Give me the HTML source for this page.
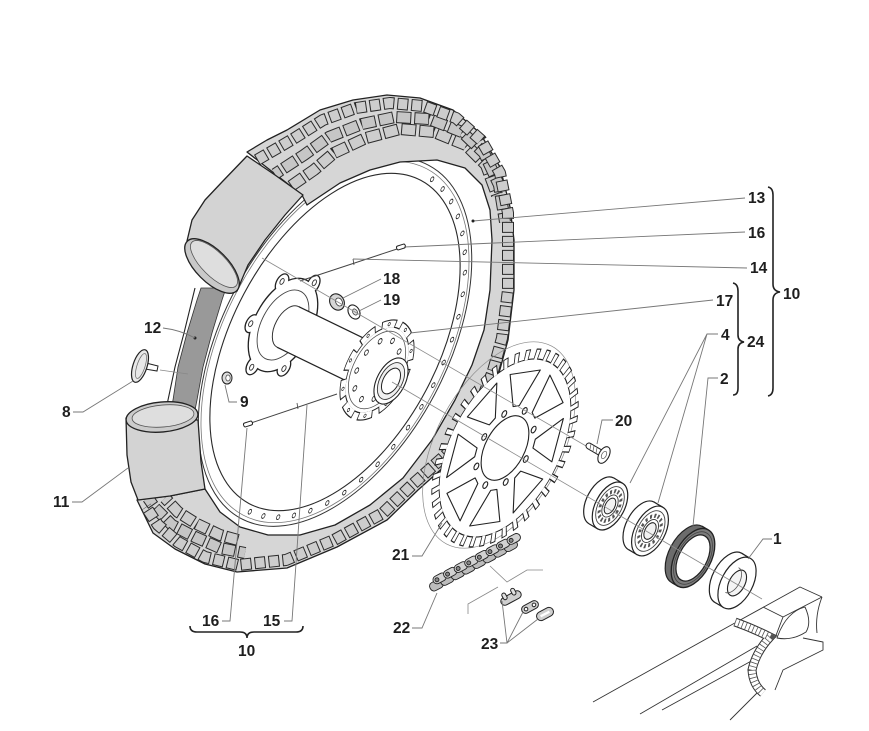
<!DOCTYPE html>
<html><head><meta charset="utf-8"><style>
html,body{margin:0;padding:0;background:#fff;}
svg{display:block;}
text{font-family:"Liberation Sans",Arial,sans-serif;font-weight:bold;font-size:15.5px;fill:#1e1e1e;}
</style></head><body>
<svg width="869" height="731" viewBox="0 0 869 731" xmlns="http://www.w3.org/2000/svg">
<defs>
<path id="t1" d="M257,160 L293,139 L323,120 L356,108 L390,103 L423,106 L456,118 L481,140 L500,173 L508,213 L508,240 L508,290 L502,338 L493,371 L476,414 L450,451 L413,484 L383,513 L334,540 L286,560 L238,565 L205,557 L178,542 L158,525 L146,507"/>
<path id="t2" d="M275,174 L304,155 L329,137 L362,124 L395,117 L429,119 L462,132 L484,153 L499,185 L505,222"/>
<path id="t3" d="M291,186 L314,170 L334,153 L366,138 L400,129 L434,132 L466,145 L486,165 L497,195"/>
<path id="tl2" d="M245,553 L220,548 L195,537 L172,525 L155,508 L148,498"/>
<path id="tl3" d="M238,540 L220,535 L197,524 L178,512 L165,498"/>
</defs>
<rect width="869" height="731" fill="#fff"/>

<!-- rim -->
<g transform="translate(335,342) rotate(-62) scale(1,0.563)" fill="none">
<circle r="183" stroke="#2a2a2a" stroke-width="1.1" vector-effect="non-scaling-stroke"/>
<circle r="196" stroke="#777" stroke-width="0.8" vector-effect="non-scaling-stroke"/>
<circle r="200" stroke="#333" stroke-width="1" vector-effect="non-scaling-stroke"/>
<path d="M189.3,16.6 A190,190 0 0 1 -189.9,6.6" stroke="#222" stroke-width="6.2" stroke-linecap="round" stroke-dasharray="0 24.9"/>
<path d="M189.3,16.6 A190,190 0 0 1 -189.9,6.6" stroke="#fff" stroke-width="4" stroke-linecap="round" stroke-dasharray="0 24.9"/>
</g>
<!-- rim tape -->
<path d="M201,288 L226,288 L222,300 L212,333 L203,367 L197,400 L195,410 L171,410 L173,400 L178,367 L187,333 L197,300 Z" fill="#999" stroke="#333" stroke-width="0.8"/>
<path d="M195,288 L184,333 L175,367 L168,400 L166,410" stroke="#222" fill="none" stroke-width="1.1"/>

<!-- tire -->
<path d="M247,152 L267,140 L287,130 L320,110 L353,100 L387,95 L420,98 L453,110 L480,133 L500,167 L510,207 L514,240 L514,290 L508,340 L499,373 L482,418 L456,456 L418,490 L387,520 L337,547 L287,568 L237,572 L205,564 L175,549 L153,533 L137,500 L170,496 L205,489 L220,512 L240,527 L268,535 L300,535 L335,525 L370,505 L403,478 L432,440 L455,400 L472,365 L484,330 L490,290 L492,240 L490,210 L482,185 L465,168 L437,160 L400,162 L370,170 L340,183 L307,205 L302,195 Z" fill="#d6d6d6" stroke="#222" stroke-width="1.3" stroke-linejoin="round"/>
<g fill="none" stroke-linejoin="round">
<use href="#t3" stroke="#2b2b2b" stroke-width="12" stroke-dasharray="15 3"/>
<use href="#t3" stroke="#cdcdcd" stroke-width="10" stroke-dasharray="13 5" stroke-dashoffset="-1"/>
<use href="#t2" stroke="#2b2b2b" stroke-width="12" stroke-dasharray="15 3" stroke-dashoffset="8"/>
<use href="#t2" stroke="#c6c6c6" stroke-width="10" stroke-dasharray="13 5" stroke-dashoffset="7"/>
<use href="#tl3" stroke="#2b2b2b" stroke-width="12" stroke-dasharray="13 3"/>
<use href="#tl3" stroke="#cdcdcd" stroke-width="10" stroke-dasharray="11 5" stroke-dashoffset="-1"/>
<use href="#tl2" stroke="#2b2b2b" stroke-width="12" stroke-dasharray="13 3" stroke-dashoffset="6"/>
<use href="#tl2" stroke="#c6c6c6" stroke-width="10" stroke-dasharray="11 5" stroke-dashoffset="5"/>
<use href="#t1" stroke="#2b2b2b" stroke-width="12" stroke-dasharray="11 3"/>
<use href="#t1" stroke="#cdcdcd" stroke-width="10" stroke-dasharray="9 5" stroke-dashoffset="-1"/>
</g>

<!-- upper tube -->
<path d="M187,241 L192,220 L205,200 L222,182 L247,156 L275,175 L303,195 L285,215 L265,240 L248,265 L237,291 Z" fill="#d3d3d3" stroke="#222" stroke-width="1.3" stroke-linejoin="round"/>
<ellipse cx="212" cy="266" rx="35" ry="16" transform="rotate(45 212 266)" fill="#c9c9c9" stroke="#222" stroke-width="1.3"/>
<ellipse cx="214" cy="264" rx="31" ry="12" transform="rotate(45 214 264)" fill="#dedede" stroke="#555" stroke-width="0.8"/>
<!-- lower tube -->
<path d="M126,418 L127,455 L131,482 L138,500 L170,496 L205,489 L201,462 L198,420 Z" fill="#d3d3d3" stroke="#222" stroke-width="1.3" stroke-linejoin="round"/>
<ellipse cx="162" cy="417" rx="36" ry="15" transform="rotate(-5 162 417)" fill="#cbcbcb" stroke="#222" stroke-width="1.3"/>
<ellipse cx="163" cy="416" rx="31" ry="11" transform="rotate(-5 163 416)" fill="#dedede" stroke="#555" stroke-width="0.8"/>

<!-- valve 8 -->
<line x1="160" y1="370" x2="188" y2="374" stroke="#888" stroke-width="0.8"/>
<path d="M146,363 L158,366 L157,371 L145,369 Z" fill="#fff" stroke="#222" stroke-width="1"/>
<ellipse cx="140" cy="366" rx="7" ry="17" transform="rotate(18 140 366)" fill="#e8e8e8" stroke="#222" stroke-width="1.2"/>
<ellipse cx="141" cy="366" rx="4" ry="13" transform="rotate(18 141 366)" fill="none" stroke="#666" stroke-width="0.7"/>
<!-- nut 9 -->
<ellipse cx="227" cy="378" rx="5" ry="6" fill="#ddd" stroke="#222" stroke-width="1"/>
<ellipse cx="228" cy="378" rx="2.2" ry="3" fill="#fff" stroke="#444" stroke-width="0.7"/>
<circle cx="195" cy="338" r="1.5" fill="#222"/>

<!-- hub left flange -->
<g transform="translate(283,325) rotate(-62) scale(1,0.56)">
<g fill="#222" stroke="#222" stroke-width="2.6">
<circle r="50" vector-effect="non-scaling-stroke"/>
<circle cx="50.2" cy="13.5" r="9" vector-effect="non-scaling-stroke"/><circle cx="13.5" cy="50.2" r="9" vector-effect="non-scaling-stroke"/>
<circle cx="-36.8" cy="36.8" r="9" vector-effect="non-scaling-stroke"/><circle cx="-50.2" cy="-13.5" r="9" vector-effect="non-scaling-stroke"/>
<circle cx="-13.5" cy="-50.2" r="9" vector-effect="non-scaling-stroke"/><circle cx="36.8" cy="-36.8" r="9" vector-effect="non-scaling-stroke"/>
</g>
<g fill="#fff">
<circle r="50"/>
<circle cx="50.2" cy="13.5" r="9"/><circle cx="13.5" cy="50.2" r="9"/>
<circle cx="-36.8" cy="36.8" r="9"/><circle cx="-50.2" cy="-13.5" r="9"/>
<circle cx="-13.5" cy="-50.2" r="9"/><circle cx="36.8" cy="-36.8" r="9"/>
</g>
<g fill="#fff" stroke="#333" stroke-width="0.9">
<circle cx="52" cy="14" r="3.2" vector-effect="non-scaling-stroke"/><circle cx="14" cy="52" r="3.2" vector-effect="non-scaling-stroke"/>
<circle cx="-38" cy="38" r="3.2" vector-effect="non-scaling-stroke"/><circle cx="-52" cy="-14" r="3.2" vector-effect="non-scaling-stroke"/>
<circle cx="-14" cy="-52" r="3.2" vector-effect="non-scaling-stroke"/><circle cx="38" cy="-38" r="3.2" vector-effect="non-scaling-stroke"/>
</g>
<circle r="38" fill="none" stroke="#444" stroke-width="0.9" vector-effect="non-scaling-stroke"/>
</g>
<g transform="translate(288,327) rotate(-62) scale(1,0.56)"><circle r="23" fill="#fff" stroke="#333" stroke-width="1" vector-effect="non-scaling-stroke"/></g>
<!-- hub tube -->
<path d="M298.8,306.7 L366.8,339.7 L345.2,380.3 L277.2,347.3 Z" fill="#fff"/>
<path d="M298.8,306.7 L366.8,339.7 M277.2,347.3 L345.2,380.3" stroke="#222" stroke-width="1.2" fill="none"/>
<!-- hub right flange -->
<g transform="translate(377,370) rotate(-62) scale(1,0.56)">
<circle r="47.3" fill="#222"/>
<circle r="51.15" fill="none" stroke="#222" stroke-width="7.7" stroke-dasharray="23 9.14"/>
<circle r="46" fill="#fff"/>
<circle r="49.85" fill="none" stroke="#fff" stroke-width="7.7" stroke-dasharray="19.83 11.49" stroke-dashoffset="-1.296"/>
<circle r="50" fill="none" stroke="#222" stroke-width="4.4" stroke-linecap="round" stroke-dasharray="0 31.416" stroke-dashoffset="-11.24"/>
<circle r="50" fill="none" stroke="#fff" stroke-width="2.6" stroke-linecap="round" stroke-dasharray="0 31.416" stroke-dashoffset="-11.24"/>
<circle r="42" fill="none" stroke="#555" stroke-width="0.8" vector-effect="non-scaling-stroke"/>
<circle r="33" fill="none" stroke="#222" stroke-width="7" stroke-linecap="round" stroke-dasharray="0 20.73"/>
<circle r="33" fill="none" stroke="#fff" stroke-width="4.6" stroke-linecap="round" stroke-dasharray="0 20.73"/>
</g>
<g transform="translate(391,381) rotate(-62) scale(1,0.56)">
<circle r="25" fill="#fff" stroke="#222" stroke-width="1.1" vector-effect="non-scaling-stroke"/>
<circle r="20" fill="#efefef" stroke="#333" stroke-width="0.9" vector-effect="non-scaling-stroke"/>
<circle r="14" fill="#fff" stroke="#222" stroke-width="1" vector-effect="non-scaling-stroke"/>
</g>

<!-- spokes & nipples -->
<line x1="300" y1="281" x2="397" y2="249" stroke="#444" stroke-width="1"/>
<line x1="353" y1="259" x2="354" y2="265" stroke="#444" stroke-width="0.8"/>
<rect x="-4.5" y="-2" width="9" height="4" rx="1.5" transform="translate(401,247) rotate(-18)" fill="#fff" stroke="#222" stroke-width="1"/>
<line x1="251" y1="423" x2="337" y2="394" stroke="#444" stroke-width="1"/>
<line x1="297" y1="403" x2="298" y2="409" stroke="#444" stroke-width="0.8"/>
<rect x="-4.5" y="-2" width="9" height="4" rx="1.5" transform="translate(248,424) rotate(-18)" fill="#fff" stroke="#222" stroke-width="1"/>

<!-- nut 18 / washer 19 -->
<ellipse cx="337" cy="302" rx="7" ry="8.5" transform="rotate(-30 337 302)" fill="#d6d6d6" stroke="#222" stroke-width="1.1"/>
<ellipse cx="339" cy="302" rx="3.2" ry="4.2" transform="rotate(-30 339 302)" fill="#fff" stroke="#333" stroke-width="0.8"/>
<ellipse cx="354" cy="312" rx="5.5" ry="7.5" transform="rotate(-30 354 312)" fill="#fff" stroke="#222" stroke-width="1.1"/>
<ellipse cx="355" cy="312" rx="2.3" ry="3.3" transform="rotate(-30 355 312)" fill="#ddd" stroke="#333" stroke-width="0.7"/>

<!-- sprocket -->
<g transform="translate(499,445) rotate(-62) scale(1,0.56)"><circle r="112" fill="none" stroke="#888" stroke-width="0.7" vector-effect="non-scaling-stroke"/></g>
<g transform="translate(505,448) rotate(-62) scale(1,0.56)">
<circle r="97.3" fill="#222"/>
<circle r="102.65" fill="none" stroke="#222" stroke-width="10.7" stroke-dasharray="7.5 8.624"/>
<circle r="96" fill="#fff"/>
<circle r="101.35" fill="none" stroke="#fff" stroke-width="10.7" stroke-dasharray="4.77 11.15" stroke-dashoffset="-1.318"/>
<g fill="#fff" stroke="#222" stroke-width="1.1" stroke-linejoin="round">
<path d="M44.11,13.06 L85.45,9.74 L67.3,53.54 L40.42,21.95 Z" vector-effect="non-scaling-stroke"/>
<path d="M21.95,40.42 L53.54,67.3 L9.74,85.45 L13.06,44.11 Z" vector-effect="non-scaling-stroke"/>
<path d="M-13.06,44.11 L-9.74,85.45 L-53.54,67.3 L-21.95,40.42 Z" vector-effect="non-scaling-stroke"/>
<path d="M-40.42,21.95 L-67.3,53.54 L-85.45,9.74 L-44.11,13.06 Z" vector-effect="non-scaling-stroke"/>
<path d="M-44.11,-13.06 L-85.45,-9.74 L-67.3,-53.54 L-40.42,-21.95 Z" vector-effect="non-scaling-stroke"/>
<path d="M-21.95,-40.42 L-53.54,-67.3 L-9.74,-85.45 L-13.06,-44.11 Z" vector-effect="non-scaling-stroke"/>
<path d="M13.06,-44.11 L9.74,-85.45 L53.54,-67.3 L21.95,-40.42 Z" vector-effect="non-scaling-stroke"/>
<path d="M40.42,-21.95 L67.3,-53.54 L85.45,-9.74 L44.11,-13.06 Z" vector-effect="non-scaling-stroke"/>
<circle r="35" vector-effect="non-scaling-stroke"/>
<circle cx="42" cy="0" r="3.6" vector-effect="non-scaling-stroke"/><circle cx="29.7" cy="29.7" r="3.6" vector-effect="non-scaling-stroke"/>
<circle cx="0" cy="42" r="3.6" vector-effect="non-scaling-stroke"/><circle cx="-29.7" cy="29.7" r="3.6" vector-effect="non-scaling-stroke"/>
<circle cx="-42" cy="0" r="3.6" vector-effect="non-scaling-stroke"/><circle cx="-29.7" cy="-29.7" r="3.6" vector-effect="non-scaling-stroke"/>
<circle cx="0" cy="-42" r="3.6" vector-effect="non-scaling-stroke"/><circle cx="29.7" cy="-29.7" r="3.6" vector-effect="non-scaling-stroke"/>
</g>
</g>

<!-- bolt axis -->
<line x1="262" y1="258" x2="605" y2="457" stroke="#8a8a8a" stroke-width="0.8"/>

<!-- bolt 20 -->
<line x1="589" y1="446" x2="601" y2="453" stroke="#222" stroke-width="7" stroke-linecap="round"/>
<line x1="589" y1="446" x2="601" y2="453" stroke="#fff" stroke-width="5" stroke-linecap="round"/>
<path d="M591,444 L590,449 M594,446 L593,451 M597,448 L596,453" stroke="#555" stroke-width="0.7"/>
<g transform="translate(604,455) rotate(-62) scale(1,0.56)"><circle r="9" fill="#fff" stroke="#222" stroke-width="1.1" vector-effect="non-scaling-stroke"/><circle r="4" fill="none" stroke="#555" stroke-width="0.7" vector-effect="non-scaling-stroke"/></g>

<!-- bearing 1 -->
<g transform="translate(601.4,500.9) rotate(-62) scale(1,0.56)"><circle r="26" fill="#fff" stroke="#222" stroke-width="1.2" vector-effect="non-scaling-stroke"/></g>
<path d="M613.6,477.9 L622.2,483 L597.8,529 L589.2,523.9 Z" fill="#fff"/>
<path d="M613.6,477.9 L622.2,483 M597.8,529 L589.2,523.9" stroke="#222" stroke-width="1.2"/>
<g transform="translate(610,506) rotate(-62) scale(1,0.56)">
<circle r="26" fill="#fff" stroke="#222" stroke-width="1.2" vector-effect="non-scaling-stroke"/>
<circle r="21" fill="none" stroke="#444" stroke-width="0.9" vector-effect="non-scaling-stroke"/>
<circle r="16" fill="none" stroke="#555" stroke-width="4.5" stroke-dasharray="3 3.3"/>
<circle r="12" fill="#fff" stroke="#333" stroke-width="0.9" vector-effect="non-scaling-stroke"/>
<circle r="8.5" fill="#f2f2f2" stroke="#222" stroke-width="1" vector-effect="non-scaling-stroke"/>
</g>
<!-- bearing 2 -->
<g transform="translate(641.4,525.9) rotate(-62) scale(1,0.56)"><circle r="27" fill="#fff" stroke="#222" stroke-width="1.2" vector-effect="non-scaling-stroke"/></g>
<path d="M654.1,502.1 L662.7,507.2 L637.3,554.8 L628.7,549.7 Z" fill="#fff"/>
<path d="M654.1,502.1 L662.7,507.2 M637.3,554.8 L628.7,549.7" stroke="#222" stroke-width="1.2"/>
<g transform="translate(650,531) rotate(-62) scale(1,0.56)">
<circle r="27" fill="#fff" stroke="#222" stroke-width="1.2" vector-effect="non-scaling-stroke"/>
<circle r="22" fill="none" stroke="#444" stroke-width="0.9" vector-effect="non-scaling-stroke"/>
<circle r="16.5" fill="none" stroke="#555" stroke-width="4.5" stroke-dasharray="3 3.5"/>
<circle r="12.5" fill="#fff" stroke="#333" stroke-width="0.9" vector-effect="non-scaling-stroke"/>
<circle r="9" fill="#f2f2f2" stroke="#222" stroke-width="1" vector-effect="non-scaling-stroke"/>
</g>
<!-- seal 2 -->
<g transform="translate(687,554.5) rotate(-62) scale(1,0.56)"><circle r="32" fill="#6c6c6c" stroke="#222" stroke-width="1.2" vector-effect="non-scaling-stroke"/></g>
<path d="M702,526.2 L708,529.7 L678,586.3 L672,582.8 Z" fill="#6c6c6c"/>
<path d="M702,526.2 L708,529.7 M678,586.3 L672,582.8" stroke="#222" stroke-width="1.2"/>
<g transform="translate(693,558) rotate(-62) scale(1,0.56)">
<circle r="32" fill="#7c7c7c" stroke="#222" stroke-width="1.3" vector-effect="non-scaling-stroke"/>
<circle r="28.5" fill="none" stroke="#444" stroke-width="0.8" vector-effect="non-scaling-stroke"/>
<circle r="25" fill="#fff" stroke="#222" stroke-width="1.2" vector-effect="non-scaling-stroke"/>
</g>
<!-- spacer 1 -->
<g transform="translate(728.4,577.9) rotate(-62) scale(1,0.56)"><circle r="28" fill="#fff" stroke="#222" stroke-width="1.2" vector-effect="non-scaling-stroke"/></g>
<path d="M741.5,553.2 L750.1,558.3 L723.9,607.7 L715.3,602.6 Z" fill="#fff"/>
<path d="M741.5,553.2 L750.1,558.3 M723.9,607.7 L715.3,602.6" stroke="#222" stroke-width="1.2"/>
<g transform="translate(737,583) rotate(-62) scale(1,0.56)">
<circle r="28" fill="#fff" stroke="#222" stroke-width="1.2" vector-effect="non-scaling-stroke"/>
<circle r="14" fill="#f4f4f4" stroke="#222" stroke-width="1.1" vector-effect="non-scaling-stroke"/>
</g>
<g transform="translate(732,580) rotate(-62) scale(1,0.56)"><path d="M-14,0 A14,14 0 0 0 14,0" fill="none" stroke="#555" stroke-width="0.8" vector-effect="non-scaling-stroke"/></g>

<!-- chain -->
<g transform="translate(430,588) rotate(-28)" stroke="#222" stroke-width="0.9">
<g fill="#bcbcbc">
<rect x="0" y="-4" width="14" height="9" rx="4"/><rect x="12" y="-4" width="14" height="9" rx="4"/><rect x="24" y="-4" width="14" height="9" rx="4"/><rect x="36" y="-4" width="14" height="9" rx="4"/>
<rect x="48" y="-4" width="14" height="9" rx="4"/><rect x="60" y="-4" width="14" height="9" rx="4"/><rect x="72" y="-4" width="14" height="9" rx="4"/><rect x="84" y="-4" width="14" height="9" rx="4"/>
</g>
<g fill="#d2d2d2">
<rect x="6" y="-8" width="14" height="8" rx="4"/><rect x="18" y="-8" width="14" height="8" rx="4"/><rect x="30" y="-8" width="14" height="8" rx="4"/><rect x="42" y="-8" width="14" height="8" rx="4"/>
<rect x="54" y="-8" width="14" height="8" rx="4"/><rect x="66" y="-8" width="14" height="8" rx="4"/><rect x="78" y="-8" width="14" height="8" rx="4"/><rect x="90" y="-8" width="14" height="8" rx="4"/>
</g>
<g fill="#888">
<circle cx="10" cy="-4" r="2"/><circle cx="22" cy="-4" r="2"/><circle cx="34" cy="-4" r="2"/><circle cx="46" cy="-4" r="2"/><circle cx="58" cy="-4" r="2"/><circle cx="70" cy="-4" r="2"/><circle cx="82" cy="-4" r="2"/><circle cx="94" cy="-4" r="2"/>
</g>
</g>
<!-- chain link parts 23 -->
<g transform="translate(511,598) rotate(-28)" stroke="#222" stroke-width="1">
<rect x="-11" y="-4" width="22" height="8" rx="4" fill="#cfcfcf"/>
<rect x="-7" y="-8" width="4" height="7" rx="2" fill="#e0e0e0"/><rect x="3" y="-8" width="4" height="7" rx="2" fill="#e0e0e0"/>
</g>
<g transform="translate(530,607) rotate(-28)" stroke="#222" stroke-width="1">
<rect x="-9" y="-4" width="18" height="8" rx="4" fill="#cfcfcf"/>
<circle cx="-4.5" cy="0" r="1.8" fill="#fff"/><circle cx="4.5" cy="0" r="1.8" fill="#fff"/>
</g>
<g transform="translate(545,614) rotate(-28)" stroke="#222" stroke-width="1">
<rect x="-9" y="-4.5" width="18" height="9" rx="4.5" fill="#cfcfcf"/>
<path d="M-5,0 L5,0" stroke-width="2.4" stroke="#fff"/>
</g>
<path d="M490,566 L507,582 L527,570 L543,570 M498,587 L468,604 L468,614" fill="none" stroke="#888" stroke-width="0.8"/>

<!-- swingarm -->
<g fill="none" stroke="#333" stroke-width="0.9" stroke-linejoin="round">
<path d="M593,702 L733,624 L800,587 L822,597"/>
<path d="M763,607 L783,617 L822,597"/>
<path d="M783,617 L775,638"/>
<path d="M822,597 Q815,615 817,633"/>
<path d="M777,638 Q786,612 805,607 Q812,622 806,632 Q792,641 777,638 Z"/>
<path d="M803,638 L823,642 L823,650 L783,670 L775,690"/>
<path d="M640,714 L757,646"/>
<path d="M662,710 L755,659"/>
<path d="M730,720 L757,693"/>
</g>
<path d="M735,622 Q752,628 770,637 Q756,652 752,670 Q753,685 763,693" fill="none" stroke="#333" stroke-width="9"/>
<path d="M735,622 Q752,628 770,637 Q756,652 752,670 Q753,685 763,693" fill="none" stroke="#fff" stroke-width="7"/>
<path d="M735,622 Q752,628 770,637 Q756,652 752,670 Q753,685 763,693" fill="none" stroke="#555" stroke-width="7" stroke-dasharray="0.8 3"/>

<!-- leader lines -->
<g stroke="#777" stroke-width="0.9" fill="none">
<path d="M473,221 L745,198"/>
<path d="M404,247 L745,232"/>
<path d="M353,259 L747,268"/>
<path d="M410,333 L713,300"/>
<path d="M381,279 L343,298"/>
<path d="M381,300 L359,311"/>
<path d="M718,334 L707,334 L630,483 M707,334 L658,503"/>
<path d="M718,378 L708,378 L693,526"/>
<path d="M772,539 L763,539 L748,559"/>
<path d="M613,420 L602,420 L597,444"/>
<path d="M412,556 L422,556 L442,523"/>
<path d="M412,628 L422,628 L437,593"/>
<path d="M500,643 L507,643 L502,601 M507,643 L523,612 M507,643 L538,619"/>
<path d="M163,328 Q180,330 195,338"/>
<path d="M73,412 L83,412 L133,381"/>
<path d="M237,402 L229,402 L225,385"/>
<path d="M72,502 L82,502 L128,468"/>
<path d="M222,621 L230,621 L247,428"/>
<path d="M284,621 L292,621 L307,405"/>
</g>
<circle cx="473" cy="221" r="1.5" fill="#222"/>
<!-- axle line -->
<line x1="392" y1="382" x2="762" y2="599" stroke="#8a8a8a" stroke-width="0.8"/>

<!-- braces -->
<g fill="none" stroke="#222" stroke-width="1.6">
<path d="M768,187 Q773,188 773,195 L773,284 Q773,291 780,292 Q773,293 773,300 L773,388 Q773,395 768,396"/>
<path d="M733,283 Q738,284 738,291 L738,335 Q738,341 744,342 Q738,343 738,349 L738,388 Q738,395 733,395"/>
<path d="M190,626 Q190,632 197,632 L240,632 Q247,632 247,638 Q247,632 254,632 L296,632 Q303,632 303,626"/>
</g>

<!-- labels -->
<text x="748" y="203">13</text>
<text x="748" y="238">16</text>
<text x="750" y="273">14</text>
<text x="716" y="306">17</text>
<text x="721" y="340">4</text>
<text x="747" y="347">24</text>
<text x="720" y="384">2</text>
<text x="783" y="299">10</text>
<text x="383" y="284">18</text>
<text x="383" y="305">19</text>
<text x="144" y="333">12</text>
<text x="62" y="417">8</text>
<text x="240" y="407">9</text>
<text x="53" y="507">11</text>
<text x="615" y="426">20</text>
<text x="773" y="544">1</text>
<text x="392" y="560">21</text>
<text x="393" y="633">22</text>
<text x="481" y="649">23</text>
<text x="202" y="626">16</text>
<text x="263" y="626">15</text>
<text x="238" y="656">10</text>
</svg>
</body></html>
